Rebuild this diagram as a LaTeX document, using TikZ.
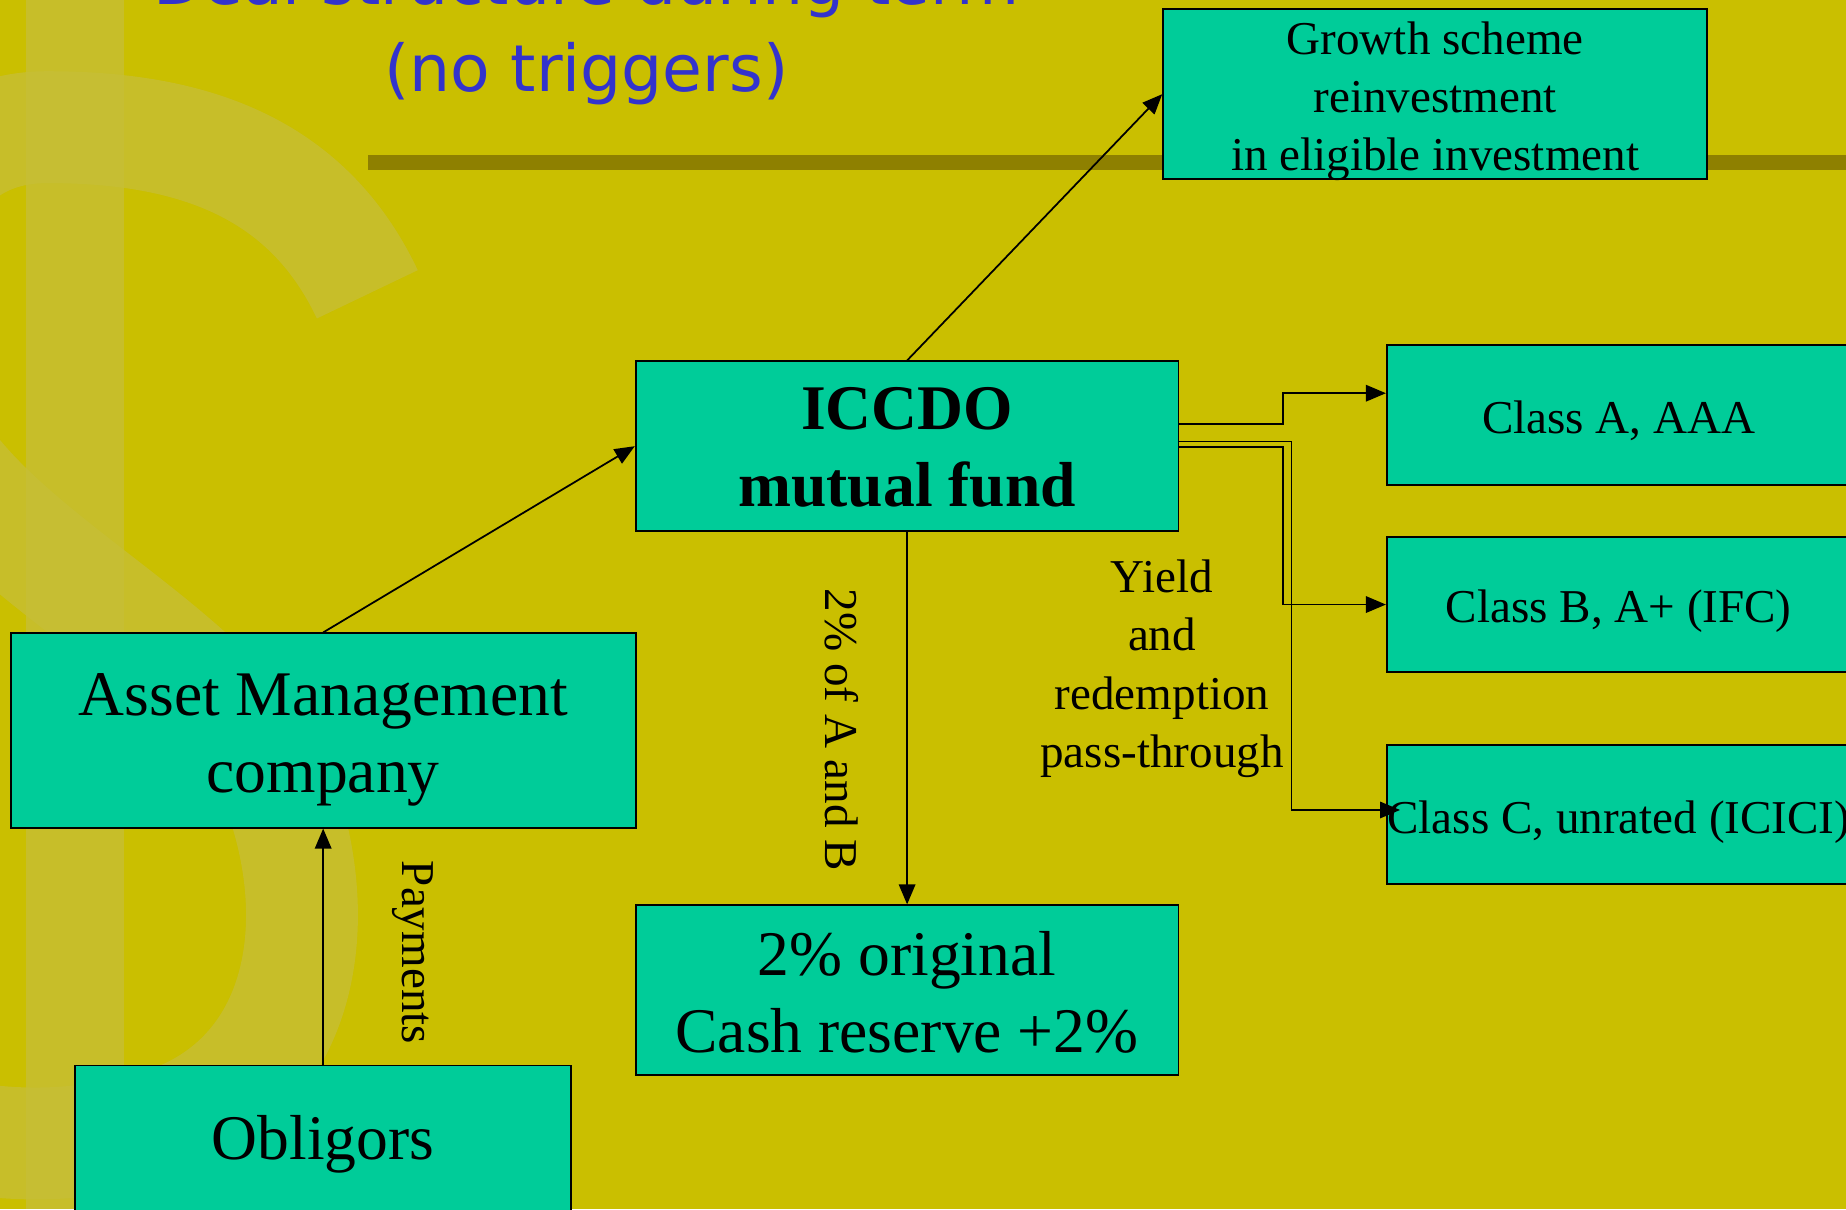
\documentclass[tikz,border=0pt]{standalone}
\usepackage{fontspec}
\setmainfont{Liberation Serif}
\newfontfamily\titlefont{DejaVu Sans}
\usetikzlibrary{arrows.meta}
\definecolor{bgyellow}{RGB}{202,191,0}
\definecolor{dollarcol}{RGB}{198,190,55}
\definecolor{barcol}{RGB}{142,128,0}
\definecolor{boxgreen}{RGB}{0,204,153}
\definecolor{titleblue}{RGB}{51,51,204}
\newcommand\fsSmall{\fontsize{40}{49.5}\selectfont}
\newcommand\fsBig{\fontsize{54}{65}\selectfont}
\newcommand\fsBigB{\fontsize{54}{66}\selectfont}
\newcommand\fsTitle{\fontsize{55}{71}\selectfont}
\begin{document}
\begin{tikzpicture}[x=1pt,y=1pt,
  box/.style={draw=black, line width=1.6pt, fill=boxgreen, inner sep=0pt},
  txt/.style={inner sep=0pt, align=center, text=black},
  conn/.style={draw=black, line width=1.5pt, -{Triangle[length=17pt,width=14pt]}},
  lbl/.style={inner sep=0pt, align=center, text=black, font=\fsSmall}]
\useasboundingbox (0,0) rectangle (1568,-1027);
\clip (0,0) rectangle (1568,-1027);
\fill[bgyellow] (0,0) rectangle (1568,-1027);
% faint dollar sign in the background
\begin{scope}[dollarcol, opacity=0.75]
  \fill (22,0) rectangle (105,-1027);
  \draw[line width=95pt, line cap=butt]
    (312,-250) .. controls (260,-140) and (160,-108) .. (40,-108)
    .. controls (-90,-108) and (-110,-270) .. (-60,-370)
    .. controls (0,-480) and (200,-560) .. (240,-680)
    .. controls (280,-800) and (250,-930) .. (120,-960)
    .. controls (60,-975) and (0,-975) .. (-60,-960);
\end{scope}
% title
\node[text=titleblue, font=\titlefont\fsTitle, anchor=base] (t1) at (498,-4) {Deal structure during term};
\node[text=titleblue, font=\titlefont\fsTitle, anchor=base] (t2) at (498,-78) {(no triggers)};
\fill[barcol] (313,-132) rectangle (1568,-144);
% boxes
\node[box, minimum width=462pt, minimum height=144pt] (growth) at (1219,-80) {};
\node[box, minimum width=461pt, minimum height=144pt] (iccdo) at (770.5,-379) {};
\node[box, minimum width=394pt, minimum height=119pt] (classA) at (1375,-352.5) {};
\node[box, minimum width=394pt, minimum height=115pt] (classB) at (1375,-513.5) {};
\node[box, minimum width=394pt, minimum height=118pt] (classC) at (1375,-692) {};
\node[box, minimum width=531pt, minimum height=165pt] (amc) at (274.5,-620.5) {};
\node[box, minimum width=421pt, minimum height=128pt] (oblig) at (274.5,-969) {};
\node[box, minimum width=461pt, minimum height=144pt] (cash) at (770.5,-841) {};
% box texts
\node[txt, font=\fsSmall] (growthT) at ([yshift=-6pt]growth.center)
  {Growth scheme\\reinvestment\\in eligible investment};
\node[txt, font=\fsBig\bfseries] (iccdoT) at ([yshift=-1pt]iccdo.center) {ICCDO\\mutual fund};
\node[txt, font=\fsSmall] (classAT) at ([yshift=-5pt]classA.center) {Class A, AAA};
\node[txt, font=\fsSmall] (classBT) at ([yshift=-6pt]classB.center) {Class B, A+ (IFC)};
\node[txt, font=\fsSmall] (classCT) at ([yshift=-6pt]classC.center) {Class C, unrated (ICICI)};
\node[txt, font=\fsBigB] (amcT) at ([yshift=-8pt]amc.center) {Asset Management\\company};
\node[txt, font=\fsBig] (obligT) at ([yshift=-3pt]oblig.center) {Obligors};
\node[txt, font=\fsBig] (cashT) at ([yshift=-2pt]cash.center) {2\% original\\Cash reserve +2\%};
% connectors
\draw[conn] (amc.north) -- (iccdo.west);
\draw[conn] (iccdo.north) -- (growth.west);
\draw[conn] (iccdo.south) -- (cash.north);
\draw[conn] (oblig.north) -- (amc.south);
\draw[conn] ([yshift=19pt]iccdo.east) -- (1090,-360) -- (1090,-334) -- ([yshift=18.5pt]classA.west);
\draw[conn] ([yshift=-1pt]iccdo.east) -- (1090,-380) -- (1090,-513.5) -- (classB.west);
\draw[conn] ([yshift=4pt]iccdo.east) -- (1097,-375) -- (1097,-688) -- ([xshift=12pt,yshift=4pt]classC.west);
% labels
\node[lbl, rotate=-90] (l2pct) at (715,-620) {2\% of A and B};
\node[lbl, rotate=-90] (lpay) at (351,-809) {Payments};
\node[lbl] (lyield) at (987,-568) {Yield\\and\\redemption\\pass-through};
\end{tikzpicture}
\end{document}
